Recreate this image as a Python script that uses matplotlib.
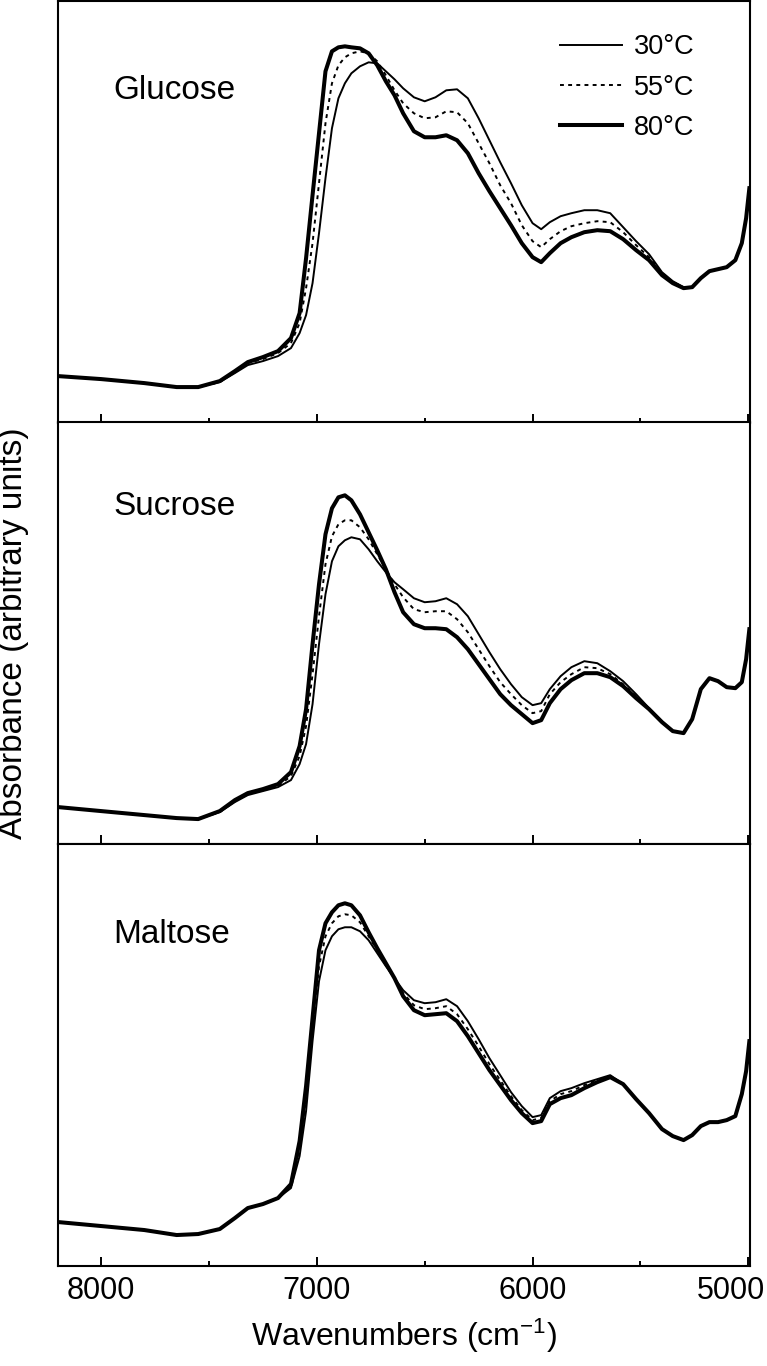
import numpy as np
import matplotlib
matplotlib.use("Agg")
import matplotlib.pyplot as plt
from matplotlib.ticker import MultipleLocator
from matplotlib.transforms import ScaledTranslation

plt.rcParams['font.family'] = ['Liberation Sans', 'DejaVu Sans']
plt.rcParams['mathtext.default'] = 'regular'

# wavenumbers (cm-1), shared by all curves
wn = [8200, 8000, 7800, 7650, 7550, 7450, 7380, 7320, 7250, 7180,
      7120, 7080, 7050, 7020, 6990, 6960, 6930, 6900, 6870, 6840,
      6800, 6760, 6720, 6680, 6640, 6600, 6550, 6500, 6450, 6400,
      6350, 6300, 6250, 6200, 6150, 6100, 6050, 6000, 5960, 5920,
      5870, 5820, 5760, 5700, 5640, 5580, 5520, 5460, 5400, 5350,
      5300, 5260, 5220, 5180, 5140, 5100, 5060, 5030, 5010, 4995]

# absorbance, arbitrary units
glucose_30 = [47, 44, 40, 36, 36, 41, 50, 58, 62, 67,
              75, 90, 108, 140, 190, 245, 295, 325, 340, 350,
              357, 361, 360, 352, 344, 335, 326, 322, 326, 333,
              334, 325, 305, 283, 261, 240, 218, 200, 194, 201,
              207, 210, 213, 213, 210, 196, 182, 169, 151, 142,
              136, 136, 145, 152, 154, 156, 163, 180, 205, 235]
glucose_55 = [47, 44, 40, 36, 36, 41, 51, 60, 64, 70,
              80, 100, 135, 180, 240, 300, 340, 358, 366, 370,
              372, 370, 362, 348, 333, 320, 310, 305, 306, 312,
              311, 300, 280, 260, 238, 220, 198, 182, 176, 184,
              192, 197, 200, 202, 201, 191, 178, 166, 150, 141,
              136, 136, 145, 152, 154, 156, 163, 180, 205, 235]
glucose_80 = [47, 44, 40, 36, 36, 42, 52, 61, 66, 72,
              85, 110, 165, 228, 290, 352, 372, 376, 377, 376,
              375, 370, 358, 342, 328, 310, 292, 286, 286, 288,
              283, 270, 250, 232, 215, 198, 180, 166, 161, 170,
              180, 186, 191, 193, 192, 184, 173, 163, 148, 140,
              135, 136, 145, 152, 154, 156, 163, 180, 205, 235]

sucrose_30 = [37, 33, 29, 26, 25, 32, 42, 49, 53, 57,
              64, 80, 100, 140, 200, 250, 283, 298, 304, 307,
              305, 295, 283, 272, 262, 255, 246, 242, 243, 246,
              240, 228, 210, 192, 175, 160, 147, 139, 141, 155,
              168, 177, 183, 181, 173, 163, 150, 136, 123, 113,
              111, 125, 155, 166, 163, 157, 156, 162, 185, 215]
sucrose_55 = [37, 33, 29, 26, 25, 32, 43, 50, 54, 58,
              68, 88, 118, 170, 228, 280, 308, 320, 324, 324,
              317, 305, 290, 275, 260, 247, 235, 232, 233, 233,
              225, 212, 195, 178, 162, 150, 139, 131, 133, 150,
              162, 170, 177, 176, 170, 160, 148, 135, 122, 113,
              111, 125, 155, 166, 163, 157, 156, 162, 185, 215]
sucrose_80 = [37, 33, 29, 26, 25, 33, 44, 51, 55, 60,
              72, 98, 135, 200, 260, 310, 336, 347, 349, 344,
              330, 312, 294, 275, 252, 232, 220, 216, 216, 215,
              207, 195, 180, 165, 150, 139, 130, 121, 124, 141,
              155, 164, 171, 171, 167, 158, 146, 135, 122, 113,
              111, 125, 155, 166, 163, 157, 156, 162, 185, 215]

maltose_30 = [44, 40, 36, 31, 32, 37, 48, 58, 62, 68,
              78, 110, 155, 225, 285, 316, 330, 337, 339, 339,
              335, 326, 313, 300, 288, 276, 266, 263, 264, 267,
              260, 245, 227, 208, 191, 174, 160, 149, 151, 168,
              175, 178, 183, 187, 191, 182, 167, 153, 137, 130,
              126, 131, 140, 144, 144, 146, 150, 172, 195, 225]
maltose_55 = [44, 40, 36, 31, 32, 37, 48, 58, 62, 68,
              80, 118, 168, 237, 300, 330, 343, 350, 352, 351,
              344, 330, 316, 301, 288, 273, 261, 257, 258, 260,
              252, 237, 220, 202, 186, 170, 156, 146, 148, 165,
              172, 175, 181, 186, 190, 182, 167, 153, 137, 130,
              126, 131, 140, 144, 144, 146, 150, 172, 195, 225]
maltose_80 = [44, 40, 36, 31, 32, 37, 48, 58, 62, 68,
              82, 125, 180, 248, 316, 343, 354, 361, 363, 361,
              351, 334, 318, 303, 288, 270, 256, 251, 252, 253,
              245, 230, 213, 196, 181, 166, 153, 143, 145, 162,
              168, 171, 178, 184, 189, 182, 167, 153, 137, 130,
              126, 131, 140, 144, 144, 146, 150, 172, 195, 225]

sugars = ['Glucose', 'Sucrose', 'Maltose']
temps = ['30°C', '55°C', '80°C']
spectra = [[glucose_30, glucose_55, glucose_80],
           [sucrose_30, sucrose_55, sucrose_80],
           [maltose_30, maltose_55, maltose_80]]

styles = [dict(color='black', lw=1.4, ls='-'),
          dict(color='black', lw=1.4, ls=(0, (2.0, 2.2))),
          dict(color='black', lw=2.9, ls='-')]
label_y = [0.788, 0.80, 0.786]

fig = plt.figure(figsize=(7.67, 13.66), dpi=100)
left = 58 / 767
width = 692 / 767
bottoms = [0.6903, 0.3821, 0.0732]
height = 0.3087

axes = []
for i in range(3):
    if i == 0:
        ax = fig.add_axes([left, bottoms[i], width, height])
    else:
        ax = fig.add_axes([left, bottoms[i], width, height], sharex=axes[0])
    axes.append(ax)
    for j in range(3):
        ax.plot(wn, spectra[i][j], label=temps[j], solid_joinstyle='round',
                dash_joinstyle='round', **styles[j])
    ax.set_ylim(0, 422)
    ax.set_yticks([])
    for s in ax.spines.values():
        s.set_linewidth(1.5)
    ax.xaxis.set_major_locator(MultipleLocator(1000))
    ax.xaxis.set_minor_locator(MultipleLocator(500))
    ax.tick_params(axis='x', which='major', direction='in', length=6.5, width=1.4,
                   top=False, labelsize=22, pad=7)
    ax.tick_params(axis='x', which='minor', direction='in', length=3.8, width=1.4,
                   top=False)
    if i < 2:
        ax.tick_params(axis='x', labelbottom=False)
    ax.text(0.08, label_y[i], sugars[i], transform=ax.transAxes, fontsize=24,
            ha='left', va='center')

axes[0].set_xlim(8200, 4992)
axes[0].legend(loc='upper right', bbox_to_anchor=(0.92, 0.922), frameon=False,
               fontsize=19.5, handlelength=2.3, handletextpad=0.45,
               labelspacing=0.53, borderpad=0, borderaxespad=0)
axes[2].set_xlabel('Wavenumbers (cm$^{-1}$)', fontsize=23, labelpad=8)
fig.text(0.018, 0.5366, 'Absorbance (arbitrary units)', rotation=90,
         fontsize=24, ha='center', va='center')

# keep the last tick label inside the figure, as in the original
fig.canvas.draw()
shift = ScaledTranslation(-17 / 100, 0, fig.dpi_scale_trans)
for lab in axes[2].get_xticklabels():
    if lab.get_text() == '5000':
        lab.set_transform(lab.get_transform() + shift)

fig.savefig('out.png', dpi=100)
